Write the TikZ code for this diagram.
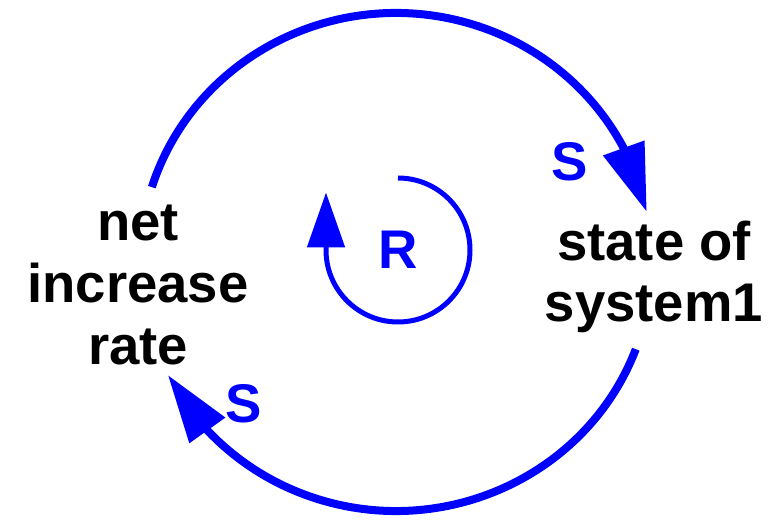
\documentclass[tikz,border=0pt]{standalone}
\usepackage{fontspec}
\setmainfont{Liberation Sans}
\usetikzlibrary{arrows.meta,bending}
\begin{document}
\begin{tikzpicture}[
		link/.style={draw=blue, line width=0.16cm, -{Triangle[length=1.36cm,width=0.84cm,flex]}},
		loopline/.style={draw=blue, line width=0.1cm, -{Triangle[length=1.1cm,width=0.74cm]}},
		var/.style={align=center, font=\fontsize{31}{35}\selectfont\bfseries},
		sign/.style={text=blue, font=\fontsize{31}{31}\selectfont\bfseries}]
	\useasboundingbox (0,0) rectangle (15.38,10.42);
	% variables
	\node[var] (rate) at (2.76,4.72) {net\\increase\\rate};
	\node[var] (state) at (13.08,4.88) {state of\\system1};
	% centre of the loop
	\coordinate (hub) at (7.92,5.18);
	% links
	\draw[link] ([shift={(162.5:5.12 and 4.98)}]hub)
		arc[start angle=162.5, end angle=11.6, x radius=5.12, y radius=4.98];
	\draw[link] ([shift={(-20.5:5.12 and 4.98)}]hub)
		arc[start angle=-20.5, end angle=-153, x radius=5.12, y radius=4.98];
	% polarities
	\node[sign] (s1) at (11.4,7.18) {S};
	\node[sign] (s2) at (4.88,2.34) {S};
	% loop marker
	\node[sign] (R) at (7.96,5.42) {R};
	\draw[loopline] ([shift={(90:1.44)}]R.center)
		arc[start angle=90, end angle=-180, radius=1.44] -- ++(0,1.15);
\end{tikzpicture}
\end{document}
